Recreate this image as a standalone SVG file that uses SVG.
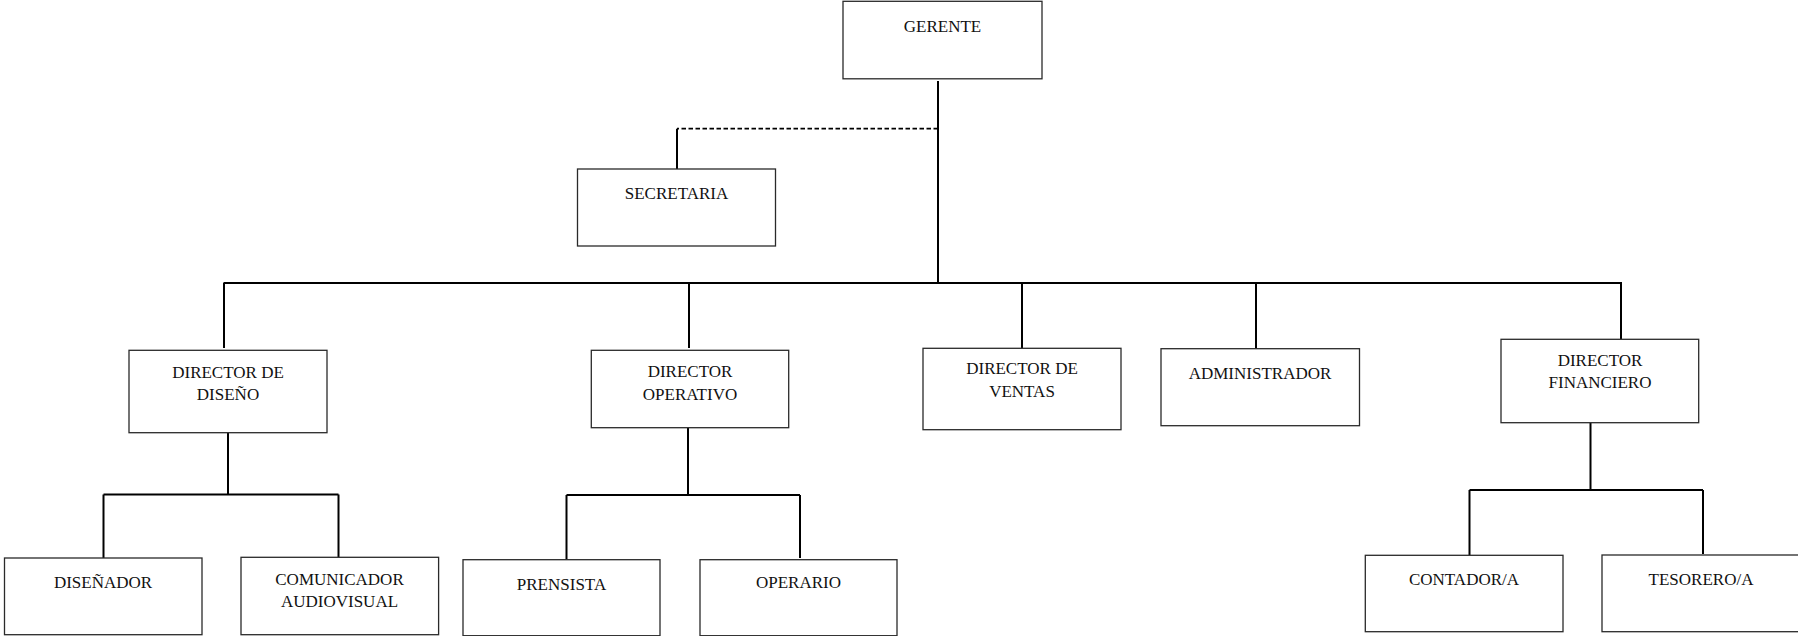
<svg xmlns="http://www.w3.org/2000/svg" width="1798" height="636" viewBox="0 0 1798 636">
  <style>
    .box { fill: #ffffff; stroke: #2a2a2a; stroke-width: 1.3; }
    .lbl { font-family: "Liberation Serif", "Times New Roman", serif; font-size: 17px; fill: #111111; text-anchor: middle; }
    .ln { fill: none; stroke: #000000; stroke-width: 2; }
    .dash { fill: none; stroke: #000000; stroke-width: 1.8; stroke-dasharray: 4.5 2.5; }
  </style>
  <rect width="1798" height="636" fill="#ffffff"/>

  <!-- connectors -->
  <g id="connectors">
    <!-- GERENTE trunk -->
    <path class="ln" d="M938 81 V283"/>
    <!-- staff link to SECRETARIA -->
    <path class="dash" d="M938 128.7 H677"/>
    <path class="ln" d="M677 128.7 V169"/>
    <!-- main bus -->
    <path class="ln" d="M223.5 283 H1622"/>
    <path class="ln" d="M224 283 V348"/>
    <path class="ln" d="M689 283 V348"/>
    <path class="ln" d="M1022 283 V348"/>
    <path class="ln" d="M1256 283 V349"/>
    <path class="ln" d="M1621 283 V339"/>
    <!-- design branch -->
    <path class="ln" d="M228 433 V494.5"/>
    <path class="ln" d="M103.5 494.5 H338.5"/>
    <path class="ln" d="M103.5 494.5 V558"/>
    <path class="ln" d="M338.5 494.5 V557"/>
    <!-- operations branch -->
    <path class="ln" d="M688 428 V495"/>
    <path class="ln" d="M566.5 495 H800"/>
    <path class="ln" d="M566.5 495 V559.5"/>
    <path class="ln" d="M800 495 V558"/>
    <!-- finance branch -->
    <path class="ln" d="M1590.5 423 V490"/>
    <path class="ln" d="M1469.5 490 H1703"/>
    <path class="ln" d="M1469.5 490 V555"/>
    <path class="ln" d="M1703 490 V554"/>
  </g>

  <g id="gerente">
    <rect class="box" x="843" y="1.3" width="199" height="77.5"/>
    <text class="lbl" x="942.5" y="31.5">GERENTE</text>
  </g>

  <g id="secretaria">
    <rect class="box" x="577.5" y="169" width="198" height="77"/>
    <text class="lbl" x="676.5" y="199">SECRETARIA</text>
  </g>

  <g id="director-diseno">
    <rect class="box" x="129" y="350.3" width="198" height="82.4"/>
    <text class="lbl" x="228" y="377.5">DIRECTOR DE</text>
    <text class="lbl" x="228" y="400">DISEÑO</text>
  </g>

  <g id="director-operativo">
    <rect class="box" x="591.3" y="350.3" width="197.4" height="77.4"/>
    <text class="lbl" x="690" y="377">DIRECTOR</text>
    <text class="lbl" x="690" y="400">OPERATIVO</text>
  </g>

  <g id="director-ventas">
    <rect class="box" x="923" y="348.3" width="198" height="81.4"/>
    <text class="lbl" x="1022" y="374">DIRECTOR DE</text>
    <text class="lbl" x="1022" y="396.7">VENTAS</text>
  </g>

  <g id="administrador">
    <rect class="box" x="1161" y="348.7" width="198.5" height="77"/>
    <text class="lbl" x="1260" y="379">ADMINISTRADOR</text>
  </g>

  <g id="director-financiero">
    <rect class="box" x="1501" y="339.3" width="197.7" height="83.4"/>
    <text class="lbl" x="1600" y="365.7">DIRECTOR</text>
    <text class="lbl" x="1600" y="388.3">FINANCIERO</text>
  </g>

  <g id="disenador">
    <rect class="box" x="4.5" y="558" width="197.5" height="76.7"/>
    <text class="lbl" x="103" y="588.3">DISEÑADOR</text>
  </g>

  <g id="comunicador">
    <rect class="box" x="241" y="557.3" width="197.6" height="77.4"/>
    <text class="lbl" x="339.5" y="584.7">COMUNICADOR</text>
    <text class="lbl" x="339.5" y="607.3">AUDIOVISUAL</text>
  </g>

  <g id="prensista">
    <rect class="box" x="463" y="559.7" width="197" height="76"/>
    <text class="lbl" x="561.5" y="590">PRENSISTA</text>
  </g>

  <g id="operario">
    <rect class="box" x="700" y="559.7" width="197" height="76"/>
    <text class="lbl" x="798.5" y="588.3">OPERARIO</text>
  </g>

  <g id="contador">
    <rect class="box" x="1365.3" y="555.3" width="197.7" height="76.4"/>
    <text class="lbl" x="1464" y="585">CONTADOR/A</text>
  </g>

  <g id="tesorero">
    <rect class="box" x="1602" y="555" width="198" height="76.7"/>
    <text class="lbl" x="1701" y="585">TESORERO/A</text>
  </g>
</svg>
